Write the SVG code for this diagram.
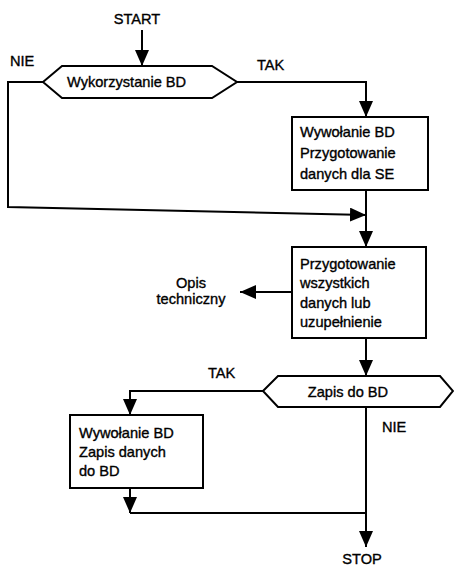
<svg xmlns="http://www.w3.org/2000/svg" width="454" height="567" viewBox="0 0 454 567">
<style>
  text { font-family: "Liberation Sans", Arial, sans-serif; font-size: 14.6px; fill: #000; stroke: #000; stroke-width: 0.35; }
  .shape { fill: #fff; stroke: #000; stroke-width: 2; }
  .conn { fill: none; stroke: #000; stroke-width: 2; }
  .arr { marker-end: url(#ah); }
</style>
<defs>
  <marker id="ah" markerUnits="userSpaceOnUse" markerWidth="17" markerHeight="15" refX="16" refY="7" orient="auto">
    <path d="M0,0 L16,7 L0,14 z" fill="#000"/>
  </marker>
</defs>
<rect width="454" height="567" fill="#fff"/>

<g id="connectors">
  <path class="conn arr" d="M142,30 L142,66"/>
  <path class="conn arr" d="M237,82 L366,82 L366,117"/>
  <path class="conn arr" d="M43,82 L8,82 L8,207 L366,215"/>
  <path class="conn arr" d="M366,190 L366,247"/>
  <path class="conn arr" d="M292,292 L240,292"/>
  <path class="conn arr" d="M366,338 L366,376"/>
  <path class="conn arr" d="M263,391 L130,391 L130,415"/>
  <path class="conn arr" d="M130,488 L130,513"/>
  <path class="conn" d="M130,513 L366,513"/>
  <path class="conn arr" d="M366,407 L366,547"/>
</g>

<g id="start"><text x="137" y="24" text-anchor="middle">START</text></g>

<g id="decision1">
  <polygon class="shape" points="43,82 62,66 212,66 237,82 212,98 62,98"/>
  <text x="67" y="87">Wykorzystanie BD</text>
</g>
<g id="label-nie1"><text x="10" y="66">NIE</text></g>
<g id="label-tak1"><text x="257" y="70">TAK</text></g>

<g id="box1">
  <rect class="shape" x="292" y="117" width="136" height="73"/>
  <text x="300" y="137">Wywołanie BD</text>
  <text x="300" y="158">Przygotowanie</text>
  <text x="300" y="179">danych dla SE</text>
</g>

<g id="box2">
  <rect class="shape" x="292" y="247" width="134" height="91"/>
  <text x="300" y="269">Przygotowanie</text>
  <text x="300" y="288">wszystkich</text>
  <text x="300" y="308">danych lub</text>
  <text x="300" y="327">uzupełnienie</text>
</g>

<g id="opis">
  <text x="191" y="288" text-anchor="middle">Opis</text>
  <text x="191" y="304" text-anchor="middle">techniczny</text>
</g>

<g id="decision2">
  <polygon class="shape" points="263,391 278,376 440,376 453,391 440,407 278,407"/>
  <text x="348" y="397" text-anchor="middle">Zapis do BD</text>
</g>
<g id="label-tak2"><text x="208" y="378">TAK</text></g>
<g id="label-nie2"><text x="382" y="432">NIE</text></g>

<g id="box3">
  <rect class="shape" x="70" y="415" width="133" height="73"/>
  <text x="79" y="438">Wywołanie BD</text>
  <text x="79" y="457">Zapis danych</text>
  <text x="79" y="476">do BD</text>
</g>

<g id="stop"><text x="362" y="564" text-anchor="middle">STOP</text></g>
</svg>
